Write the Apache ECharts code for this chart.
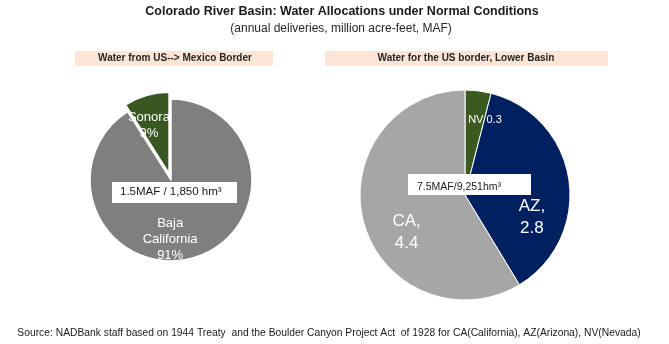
<!DOCTYPE html>
<html>
<head>
<meta charset="utf-8">
<script src="https://cdn.jsdelivr.net/npm/echarts@6/dist/echarts.min.js"></script>
<style>html,body{margin:0;padding:0;background:#fff;}#chart{width:669px;height:344px;}</style>
</head>
<body>
<div id="chart"></div>
<script>
// ---- data ----
const chartTitle = 'Colorado River Basin: Water Allocations under Normal Conditions';
const chartSubtitle = '(annual deliveries, million acre-feet, MAF)';
const leftHeader = 'Water from US--> Mexico Border';
const rightHeader = 'Water for the US border, Lower Basin';
const mexicoCategories = ['Baja California', 'Sonora'];
const mexicoShares = [91, 9];
const mexicoTotalText = '1.5MAF / 1,850 hm³';
const basinCategories = ['NV', 'AZ', 'CA'];
const basinValues = [0.3, 2.8, 4.4];
const basinTotalText = '7.5MAF/9,251hm³';
const sourceText = 'Source: NADBank staff based on 1944 Treaty  and the Boulder Canyon Project Act  of 1928 for CA(California), AZ(Arizona), NV(Nevada)';

// ---- style ----
const FONT = '"Liberation Sans", Arial, sans-serif';
const mexicoColors = ['#7f7f7f', '#385723'];
const basinColors = ['#3a5a20', '#002060', '#a6a6a6'];
const mexicoLabelShift = [[-13, 18], [-8, -6]];
const basinLabelShift = [[13, -20], [12, 30], [-5, 22]];

const chart = echarts.init(document.getElementById('chart'), null, {renderer: 'canvas'});

const mexicoData = mexicoCategories.map((n, i) => ({
  name: n, value: mexicoShares[i], selected: i === 1,
  itemStyle: {color: mexicoColors[i]}
}));
const basinData = basinCategories.map((n, i) => ({
  name: n, value: basinValues[i], itemStyle: {color: basinColors[i]},
  label: i === 0 ? {fontSize: 11, lineHeight: 13} : {fontSize: 17, lineHeight: 22}
}));

chart.setOption({
  animation: false,
  textStyle: {fontFamily: FONT},
  series: [
    {
      type: 'pie', center: [171, 180], radius: 81, startAngle: 90, clockwise: true,
      selectedMode: 'single', selectedOffset: 7,
      itemStyle: {borderColor: '#fff', borderWidth: 1.5},
      emphasis: {disabled: true},
      label: {
        position: 'inside', color: '#fff', fontFamily: FONT, fontSize: 13, lineHeight: 16,
        formatter: p => p.dataIndex === 0 ? p.name.split(' ').join('\n') + '\n' + p.value + '%' : p.name + '\n' + p.value + '%'
      },
      labelLayout: p => ({dx: mexicoLabelShift[p.dataIndex][0], dy: mexicoLabelShift[p.dataIndex][1]}),
      data: mexicoData
    },
    {
      type: 'pie', center: [465, 195], radius: 105, startAngle: 90, clockwise: true,
      itemStyle: {borderColor: '#fff', borderWidth: 1},
      emphasis: {disabled: true},
      label: {
        position: 'inside', color: '#fff', fontFamily: FONT,
        formatter: p => p.dataIndex === 0 ? p.name + ' ' + p.value : p.name + ',\n' + p.value
      },
      labelLayout: p => ({dx: basinLabelShift[p.dataIndex][0], dy: basinLabelShift[p.dataIndex][1]}),
      data: basinData
    }
  ],
  graphic: [
    {type: 'text', z: 100, x: 342, y: 5, style: {text: chartTitle, font: 'bold 12.5px ' + FONT, fill: '#1a1a1a', align: 'center'}},
    {type: 'text', z: 100, x: 341, y: 23, style: {text: chartSubtitle, font: '12px ' + FONT, fill: '#262626', align: 'center'}},
    {type: 'rect', z: 90, shape: {x: 75, y: 51, width: 198, height: 15}, style: {fill: '#fbe5d6'}},
    {type: 'text', z: 100, x: 175, y: 53, style: {text: leftHeader, font: 'bold 10px ' + FONT, fill: '#262626', align: 'center'}},
    {type: 'rect', z: 90, shape: {x: 325, y: 51, width: 283, height: 15}, style: {fill: '#fbe5d6'}},
    {type: 'text', z: 100, x: 466, y: 53, style: {text: rightHeader, font: 'bold 10px ' + FONT, fill: '#262626', align: 'center'}},
    {type: 'rect', z: 100, shape: {x: 112, y: 182, width: 125, height: 21}, style: {fill: '#fff'}},
    {type: 'text', z: 101, x: 120, y: 186, style: {text: mexicoTotalText, font: '11.5px ' + FONT, fill: '#1a1a1a'}},
    {type: 'rect', z: 100, shape: {x: 408, y: 174, width: 123, height: 21}, style: {fill: '#fff'}},
    {type: 'text', z: 101, x: 417, y: 182, style: {text: basinTotalText, font: '10.5px ' + FONT, fill: '#1a1a1a'}},
    {type: 'text', z: 100, x: 329, y: 328, style: {text: sourceText, font: '10.3px ' + FONT, fill: '#1a1a1a', align: 'center'}}
  ]
});
</script>
</body>
</html>
